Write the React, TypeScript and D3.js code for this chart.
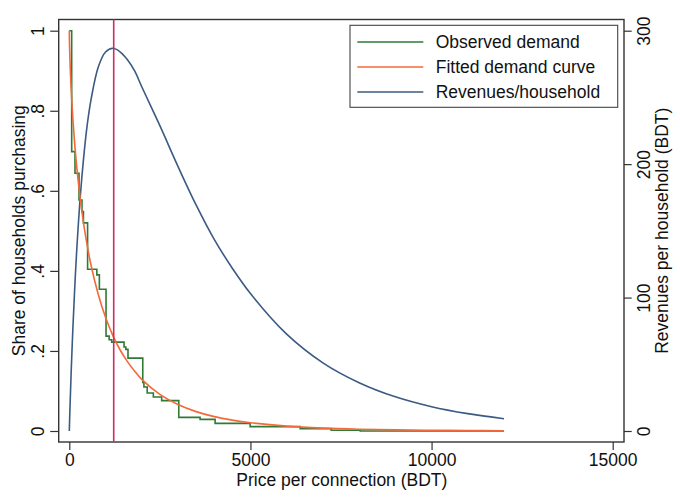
import React, { useRef, useEffect } from 'react';
import * as d3 from 'd3';

// observed demand (stepwise)
const obsPrice = [0, 66, 157, 268, 350, 390, 505, 760, 830, 1014, 1100, 1171, 1511, 1560, 1620, 2028, 2060, 2150, 2320, 2550, 3022, 3610, 4025, 4992, 6373, 7230, 8030, 12000];
const obsShare = [1.0, 0.698, 0.644, 0.577, 0.548, 0.52, 0.404, 0.39, 0.354, 0.237, 0.228, 0.222, 0.21, 0.204, 0.182, 0.121, 0.11, 0.095, 0.085, 0.076, 0.034, 0.029, 0.019, 0.011, 0.006, 0.002, 0.0, 0.0];

// fitted demand curve and revenue per household
const fitPrice = [0, 5, 10, 25, 50, 100, 150, 200, 300, 400, 500, 600, 800, 1000, 1200, 1400, 1600, 1800, 2000, 2500, 3000, 3500, 4000, 4500, 5000, 6000, 7000, 8000, 9000, 10000, 11000, 12000];
const fitShare = [1.0, 0.97, 0.951, 0.909, 0.857, 0.778, 0.716, 0.665, 0.582, 0.515, 0.461, 0.414, 0.341, 0.284, 0.239, 0.203, 0.174, 0.15, 0.129, 0.0915, 0.0661, 0.0484, 0.0359, 0.0271, 0.0206, 0.0121, 0.0073, 0.0045, 0.0028, 0.0018, 0.0012, 0.0008];
const revenue = [0, 4.85, 9.5, 22.7, 42.9, 77.8, 107.4, 133, 174.6, 206, 230.5, 248.4, 272.8, 284, 286.8, 284.2, 278.4, 270, 258, 228.8, 198.3, 169.4, 143.6, 122, 103, 72.6, 51.1, 36.2, 25.6, 18.2, 13.0, 9.2];

const optimalPrice = 1226;

const xTicks = [0, 5000, 10000, 15000];
const yTicks = [0, 0.2, 0.4, 0.6, 0.8, 1];
const y2Ticks = [0, 100, 200, 300];

const legendItems = [
  { label: 'Observed demand', color: '#2f7a34' },
  { label: 'Fitted demand curve', color: '#f26a3b' },
  { label: 'Revenues/household', color: '#3b5b82' },
];

const FONT = '"Liberation Sans", Arial, Helvetica, sans-serif';

export default function App() {
  const svgRef = useRef<SVGSVGElement>(null);

  useEffect(() => {
    if (!svgRef.current) return;
    const svg = d3.select(svgRef.current);
    svg.selectAll('*').remove();

    const frame = { left: 58.7, right: 624, top: 19.5, bottom: 442 };

    const x = d3.scaleLinear().domain([0, 15000]).range([69.3, 612.7]);
    const y = d3.scaleLinear().domain([0, 1]).range([431, 30.7]);
    const y2 = d3.scaleLinear().domain([0, 300]).range([431, 30.7]);

    svg.append('rect')
      .attr('width', 680).attr('height', 504).attr('fill', '#ffffff');

    //axes
    const fmtShare = (d: any) => (d === 0 ? '0' : d === 1 ? '1' : String(d).replace('0.', '.'));

    const left = svg.append('g')
      .attr('transform', `translate(${frame.left},0)`)
      .call(d3.axisLeft(y).tickValues(yTicks).tickFormat(fmtShare).tickSize(8.5));
    left.selectAll('.tick text')
      .attr('x', null).attr('dy', null)
      .attr('transform', 'translate(-15,0) rotate(-90)')
      .attr('text-anchor', 'middle');

    const right = svg.append('g')
      .attr('transform', `translate(${frame.right},0)`)
      .call(d3.axisRight(y2).tickValues(y2Ticks).tickFormat(d3.format('d')).tickSize(7.7));
    right.selectAll('.tick text')
      .attr('x', null).attr('dy', null)
      .attr('transform', 'translate(26,0) rotate(-90)')
      .attr('text-anchor', 'middle');

    const bottom = svg.append('g')
      .attr('transform', `translate(0,${frame.bottom})`)
      .call(d3.axisBottom(x).tickValues(xTicks).tickFormat(d3.format('d')).tickSize(8));
    bottom.selectAll('.tick text')
      .attr('y', 23.5).attr('dy', null);

    svg.selectAll('.domain').remove();
    svg.selectAll('.tick line').attr('stroke', '#333').attr('stroke-width', 1.2);
    svg.selectAll('.tick text')
      .attr('font-family', FONT).attr('font-size', '17.5px').attr('fill', '#111');

    //plot frame
    svg.append('rect')
      .attr('x', frame.left).attr('y', frame.top)
      .attr('width', frame.right - frame.left).attr('height', frame.bottom - frame.top)
      .attr('fill', 'none').attr('stroke', '#333').attr('stroke-width', 1.4);

    //lines
    const obsLine = d3.line<number>()
      .x((_, i) => x(obsPrice[i]))
      .y(d => y(d))
      .curve(d3.curveStepAfter);
    const fitLine = d3.line<number>()
      .x((_, i) => x(fitPrice[i]))
      .y(d => y(d))
      .curve(d3.curveCatmullRom.alpha(0.5));
    const revLine = d3.line<number>()
      .x((_, i) => x(fitPrice[i]))
      .y(d => y2(d))
      .curve(d3.curveCatmullRom.alpha(0.5));

    svg.append('path').datum(revenue)
      .attr('fill', 'none').attr('stroke', legendItems[2].color).attr('stroke-width', 1.6)
      .attr('d', revLine);
    svg.append('path').datum(obsShare)
      .attr('fill', 'none').attr('stroke', legendItems[0].color).attr('stroke-width', 1.6)
      .attr('d', obsLine);
    svg.append('path').datum(fitShare)
      .attr('fill', 'none').attr('stroke', legendItems[1].color).attr('stroke-width', 1.6)
      .attr('d', fitLine);

    //optimal price marker
    svg.append('line')
      .attr('x1', x(optimalPrice)).attr('x2', x(optimalPrice))
      .attr('y1', frame.top).attr('y2', frame.bottom)
      .attr('stroke', '#d42a5c').attr('stroke-width', 1.6);

    //legend
    const lg = svg.append('g');
    lg.append('rect')
      .attr('x', 350).attr('y', 25.3).attr('width', 267.7).attr('height', 82)
      .attr('fill', '#ffffff').attr('stroke', '#444').attr('stroke-width', 1.1);
    legendItems.forEach((item, i) => {
      const ly = 42 + i * 25;
      lg.append('line')
        .attr('x1', 357.3).attr('x2', 423.3).attr('y1', ly).attr('y2', ly)
        .attr('stroke', item.color).attr('stroke-width', 1.6);
      lg.append('text')
        .attr('x', 435.7).attr('y', ly).attr('dy', '0.36em')
        .attr('font-family', FONT).attr('font-size', '17.5px').attr('fill', '#111')
        .text(item.label);
    });

    //axis titles
    svg.append('text')
      .attr('x', (frame.left + frame.right) / 2 + 0.5).attr('y', 486)
      .attr('text-anchor', 'middle')
      .attr('font-family', FONT).attr('font-size', '17.5px').attr('fill', '#111')
      .text('Price per connection (BDT)');
    svg.append('text')
      .attr('transform', `translate(24.5,${(frame.top + frame.bottom) / 2}) rotate(-90)`)
      .attr('text-anchor', 'middle')
      .attr('font-family', FONT).attr('font-size', '17.5px').attr('fill', '#111')
      .text('Share of households purchasing');
    svg.append('text')
      .attr('transform', `translate(668,${(frame.top + frame.bottom) / 2}) rotate(-90)`)
      .attr('text-anchor', 'middle')
      .attr('font-family', FONT).attr('font-size', '17.5px').attr('fill', '#111')
      .text('Revenues per household (BDT)');
  }, []);

  return (
    <div style={{ position: 'absolute', left: 0, top: 0 }}>
      <svg ref={svgRef} width={680} height={504} style={{ display: 'block' }} />
    </div>
  );
}
